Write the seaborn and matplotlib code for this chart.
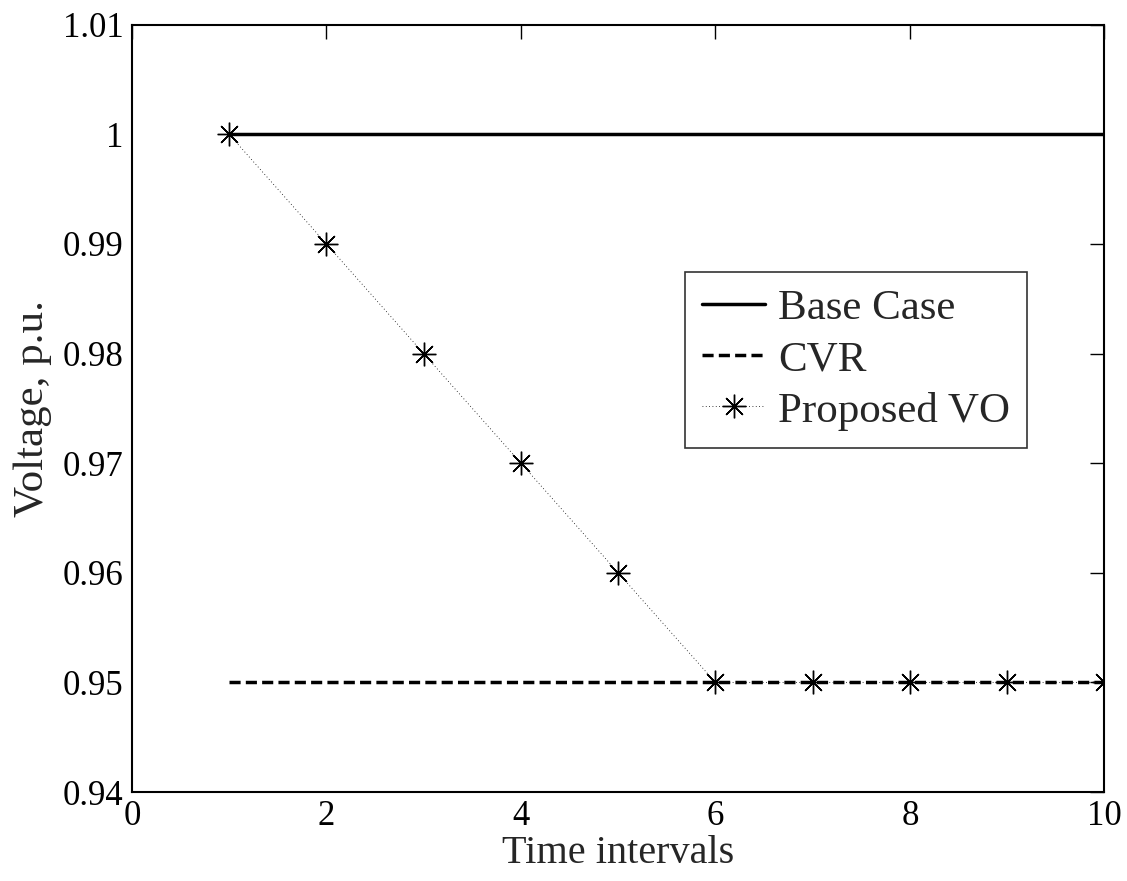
import matplotlib
matplotlib.use("Agg")
import matplotlib.pyplot as plt
import seaborn as sns
import pandas as pd

intervals = [1, 2, 3, 4, 5, 6, 7, 8, 9, 10]
base_case = [1.0, 1.0, 1.0, 1.0, 1.0, 1.0, 1.0, 1.0, 1.0, 1.0]
cvr = [0.95, 0.95, 0.95, 0.95, 0.95, 0.95, 0.95, 0.95, 0.95, 0.95]
proposed_vo = [1.0, 0.99, 0.98, 0.97, 0.96, 0.95, 0.95, 0.95, 0.95, 0.95]

sns.set_theme(style="white")
plt.rcParams['font.family'] = ['Liberation Serif', 'DejaVu Serif']

fig = plt.figure(figsize=(11.27, 8.81), dpi=100)
ax = fig.add_axes([0.117, 0.101, 0.863, 0.871])

df_b = pd.DataFrame({"x": intervals, "y": base_case})
df_c = pd.DataFrame({"x": intervals, "y": cvr})
df_v = pd.DataFrame({"x": intervals, "y": proposed_vo})

sns.lineplot(data=df_b, x="x", y="y", ax=ax, color="black", linewidth=2.5,
             linestyle="-", label="Base Case")
sns.lineplot(data=df_c, x="x", y="y", ax=ax, color="black", linewidth=2.5,
             linestyle=(0, (3.2, 1.5)), label="CVR")
sns.lineplot(data=df_v, x="x", y="y", ax=ax, color="black", linewidth=0.6,
             linestyle=(0, (1, 3)), marker=(8, 2, 0), markersize=17,
             markeredgewidth=1.0, markerfacecolor="none", markeredgecolor="black",
             label="Proposed VO")

ax.set_xlim(0, 10)
ax.set_ylim(0.94, 1.01)
ax.set_xticks([0, 2, 4, 6, 8, 10])
ax.set_yticks([0.94, 0.95, 0.96, 0.97, 0.98, 0.99, 1.0, 1.01])
ax.set_yticklabels(["0.94", "0.95", "0.96", "0.97", "0.98", "0.99", "1", "1.01"])
ax.tick_params(direction="in", length=10, width=1, labelsize=25, top=True, right=True,
               colors="black", pad=6)
for s in ax.spines.values():
    s.set_visible(True)
    s.set_color("black")
    s.set_linewidth(1.5)

ax.set_xlabel("Time intervals", fontsize=29, labelpad=1)
ax.set_ylabel("Voltage, p.u.", fontsize=31, labelpad=8)

leg = ax.legend(loc="upper left", bbox_to_anchor=(0.569, 0.678), fontsize=31,
                frameon=True, fancybox=False, edgecolor="black", handlelength=1.45,
                handletextpad=0.3, borderpad=0.4, labelspacing=0.28, borderaxespad=0)
leg.get_frame().set_linewidth(1.2)

fig.savefig("out.png", dpi=100, facecolor="white")
